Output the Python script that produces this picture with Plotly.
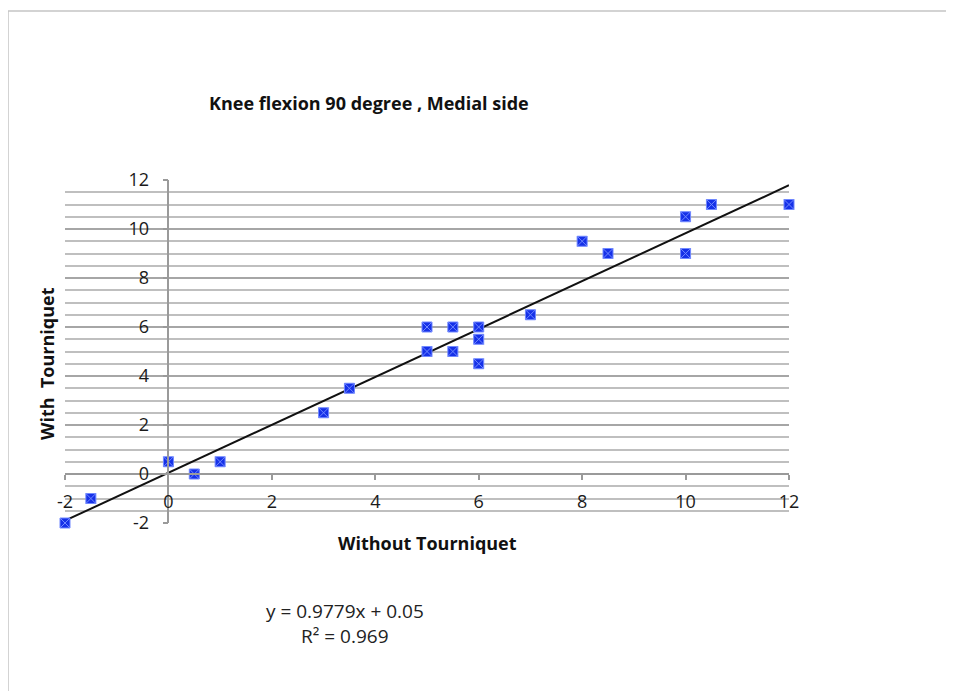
import plotly.graph_objects as go

# Data
without_tourniquet = [-2, -1.5, 0, 0.5, 1, 3, 3.5, 5, 5, 5.5, 5.5, 6, 6, 6, 7, 8, 8.5, 10, 10, 10.5, 12]
with_tourniquet = [-2, -1, 0.5, 0, 0.5, 2.5, 3.5, 6, 5, 6, 5, 6, 5.5, 4.5, 6.5, 9.5, 9, 10.5, 9, 11, 11]

trend_slope = 0.9779
trend_intercept = 0.05
x_range = [-2, 12]
y_range = [-2, 12]
tick_vals = [-2, 0, 2, 4, 6, 8, 10, 12]
tick_text = ["-2", "0", "2", "4", "6", "8", "10", "12"]

OFF = 8  # page body margin
W, H = 954 - OFF, 691 - OFF
L, T = 65 - OFF, 180 - OFF
pw, ph = 724, 343
R, B = W - L - pw, H - T - ph

def px(xpix):
    return (xpix - OFF - L) / pw

def py(ypix):
    return (T + ph - (ypix - OFF)) / ph

trend_x = x_range
trend_y = [trend_slope * v + trend_intercept for v in trend_x]

font_family = "'Open Sans', sans-serif"

fig = go.Figure()
fig.add_trace(go.Scatter(
    x=trend_x, y=trend_y, mode="lines",
    line=dict(color="#111111", width=2), showlegend=False, hoverinfo="skip"))
fig.add_trace(go.Scatter(
    x=without_tourniquet, y=with_tourniquet, mode="markers", cliponaxis=False,
    marker=dict(symbol="square-x", size=10, color="#1631e8",
                line=dict(color="#7088ff", width=1)),
    showlegend=False))

x0_frac = (0 - y_range[0]) / (y_range[1] - y_range[0])
y0_frac = (0 - x_range[0]) / (x_range[1] - x_range[0])

tickfont = dict(size=18, family=font_family, color="#1a1a1a")

fig.update_layout(
    width=W, height=H,
    margin=dict(l=L, r=R, t=T, b=B, pad=0),
    paper_bgcolor="white", plot_bgcolor="white",
    font=dict(family=font_family, color="#222222"),
    xaxis=dict(range=x_range, tickvals=tick_vals, ticktext=tick_text, anchor="free", position=x0_frac,
               showgrid=False, zeroline=False, showline=True, linecolor="#9a9a9a", linewidth=1.5,
               ticks="outside", ticklen=5, tickcolor="#9a9a9a", tickwidth=1.5,
               ticklabelstandoff=7, tickfont=tickfont),
    yaxis=dict(range=y_range, tickvals=tick_vals, ticktext=tick_text, anchor="free", position=y0_frac,
               showgrid=True, gridcolor="#a6a6a6", gridwidth=2, zeroline=False,
               showline=True, linecolor="#9a9a9a", linewidth=1.5,
               ticks="outside", ticklen=5, tickcolor="#9a9a9a", tickwidth=1.5,
               ticklabelstandoff=10, tickfont=tickfont,
               minor=dict(dtick=0.5, showgrid=True, gridcolor="#bfbfbf", gridwidth=1.5, ticks="")),
    shapes=[
        dict(type="line", xref="paper", yref="paper", x0=px(8), x1=px(960), y0=py(11), y1=py(11),
             line=dict(color="#c4c4c4", width=1.5)),
        dict(type="line", xref="paper", yref="paper", x0=px(8), x1=px(8), y0=py(11), y1=py(700),
             line=dict(color="#c4c4c4", width=1.5)),
    ],
    annotations=[
        dict(text="<b>Knee flexion 90 degree , Medial side</b>", xref="paper", yref="paper",
             x=px(369), y=py(103), showarrow=False, xanchor="center", yanchor="middle",
             font=dict(size=18, family=font_family, color="#111111")),
        dict(text="<b>With  Tourniquet</b>", xref="paper", yref="paper", textangle=-90,
             x=px(47), y=py(364), showarrow=False, xanchor="center", yanchor="middle",
             font=dict(size=18, family=font_family, color="#111111")),
        dict(text="<b>Without Tourniquet</b>", xref="paper", yref="paper",
             x=px(427), y=py(543), showarrow=False, xanchor="center", yanchor="middle",
             font=dict(size=18, family=font_family, color="#111111")),
        dict(text="y = 0.9779x + 0.05", xref="paper", yref="paper",
             x=px(345), y=py(611), showarrow=False, xanchor="center", yanchor="middle",
             font=dict(size=19, family=font_family, color="#222222")),
        dict(text="R² = 0.969", xref="paper", yref="paper",
             x=px(345), y=py(636), showarrow=False, xanchor="center", yanchor="middle",
             font=dict(size=19, family=font_family, color="#222222")),
    ],
)

fig.write_html("out.html")
